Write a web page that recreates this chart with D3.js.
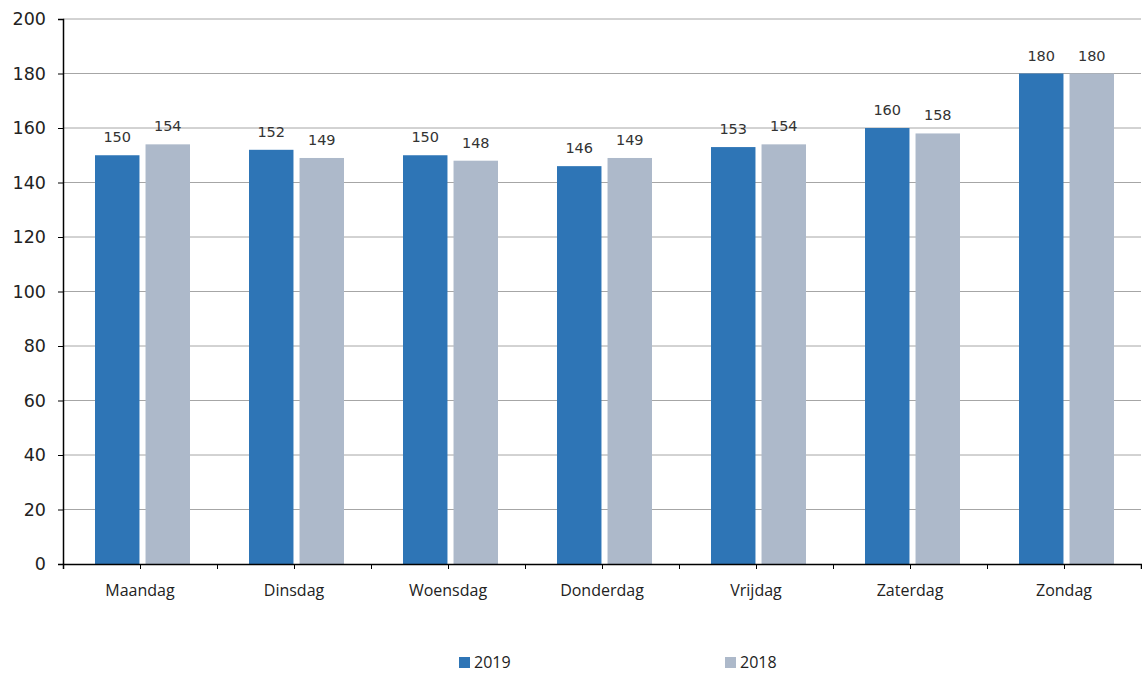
<!DOCTYPE html>
<html>
<head>
<meta charset="utf-8">
<script src="https://cdn.jsdelivr.net/npm/d3@7"></script>
<style>
  body { margin: 0; background: #fff; }
  svg { display: block; }
</style>
</head>
<body>
<svg></svg>
<script>
const days = ["Maandag", "Dinsdag", "Woensdag", "Donderdag", "Vrijdag", "Zaterdag", "Zondag"];
const years = ["2019", "2018"];
const values2019 = [150, 152, 150, 146, 153, 160, 180];
const values2018 = [154, 149, 148, 149, 154, 158, 180];
const yTicks = [0, 20, 40, 60, 80, 100, 120, 140, 160, 180, 200];

const colors = { "2019": "#2e75b6", "2018": "#adb9ca" };

const width = 1142;
const height = 677;
const plotLeft = 63, plotRight = 1141, plotTop = 19, plotBottom = 564;

const svg = d3.select("svg").attr("width", width).attr("height", height);

const x = d3.scaleBand().domain(days).range([plotLeft, plotRight]).paddingInner(0).paddingOuter(0);
const xInner = d3.scaleBand().domain(years).range([32, 127]).paddingInner(0.12);
const y = d3.scaleLinear().domain([0, 200]).range([plotBottom, plotTop]);

// gridlines
svg.append("g")
  .selectAll("line")
  .data(yTicks.filter((d) => d > 0))
  .enter()
  .append("line")
  .attr("x1", plotLeft)
  .attr("x2", plotRight)
  .attr("y1", (d) => y(d))
  .attr("y2", (d) => y(d))
  .attr("stroke", "#a6a6a6")
  .attr("stroke-width", 1);

const rows = days.map((d, i) => ({ day: d, "2019": values2019[i], "2018": values2018[i] }));

const groups = svg.append("g")
  .selectAll("g")
  .data(rows)
  .enter()
  .append("g")
  .attr("transform", (d) => `translate(${x(d.day)},0)`);

groups.selectAll("rect")
  .data((d) => years.map((k) => ({ key: k, value: d[k] })))
  .enter()
  .append("rect")
  .attr("x", (d) => xInner(d.key))
  .attr("width", xInner.bandwidth())
  .attr("y", (d) => y(d.value))
  .attr("height", (d) => y(0) - y(d.value))
  .attr("fill", (d) => colors[d.key]);

groups.selectAll("text")
  .data((d) => years.map((k) => ({ key: k, value: d[k] })))
  .enter()
  .append("text")
  .attr("x", (d) => xInner(d.key) + xInner.bandwidth() / 2)
  .attr("y", (d) => y(d.value) - 13)
  .attr("text-anchor", "middle")
  .attr("font-family", "DejaVu Sans, Verdana, sans-serif")
  .attr("font-size", 14.5)
  .attr("fill", "#333")
  .text((d) => d.value);

// y axis
const yAxis = svg.append("g")
  .attr("transform", `translate(${plotLeft},0)`)
  .call(d3.axisLeft(y).tickValues(yTicks).tickSize(5).tickPadding(12));
yAxis.select(".domain").attr("stroke", "#000").attr("stroke-width", 1.5);
yAxis.selectAll(".tick line").attr("stroke", "#000");
yAxis.selectAll("text")
  .attr("font-family", "DejaVu Sans, Verdana, sans-serif")
  .attr("font-size", 17.5)
  .attr("fill", "#222");

// x axis: ticks at category centres and boundaries
const xHalf = d3.scaleLinear().domain([0, days.length]).range([plotLeft, plotRight]);
const xAxis = svg.append("g")
  .attr("transform", `translate(0,${plotBottom})`)
  .call(d3.axisBottom(xHalf).tickValues(d3.range(0, days.length * 2 + 1).map((i) => i / 2)).tickSize(5).tickFormat(""));
xAxis.select(".domain").attr("stroke", "#000").attr("stroke-width", 1.5);
xAxis.selectAll(".tick line").attr("stroke", "#000");

svg.append("g")
  .selectAll("text")
  .data(days)
  .enter()
  .append("text")
  .attr("x", (d) => x(d) + x.bandwidth() / 2)
  .attr("y", 596)
  .attr("text-anchor", "middle")
  .attr("font-family", "Open Sans, sans-serif")
  .attr("font-size", 16)
  .attr("fill", "#222")
  .text((d) => d);

// legend
const legendX = { "2019": 459, "2018": 725 };
const legend = svg.append("g")
  .selectAll("g")
  .data(years)
  .enter()
  .append("g")
  .attr("transform", (d) => `translate(${legendX[d]},657)`);
legend.append("rect").attr("width", 11).attr("height", 11).attr("fill", (d) => colors[d]);
legend.append("text")
  .attr("x", 15)
  .attr("y", 11)
  .attr("font-family", "Open Sans, sans-serif")
  .attr("font-size", 16)
  .attr("fill", "#222")
  .text((d) => d);
</script>
</body>
</html>
